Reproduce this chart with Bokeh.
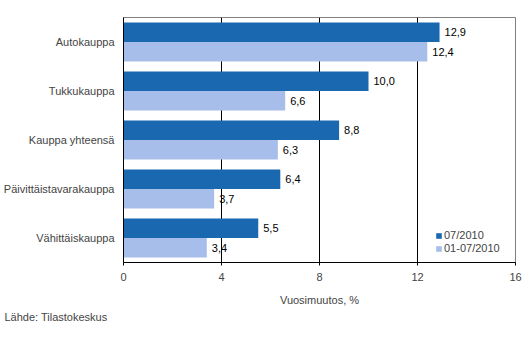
from bokeh.plotting import figure
from bokeh.models import (ColumnDataSource, FactorRange, Range1d, FixedTicker,
                          LabelSet, Title, Legend, LegendItem)
from bokeh.core.properties import value
from bokeh.transform import dodge
from bokeh.embed import file_html
from bokeh.resources import INLINE

categories = ["Autokauppa", "Tukkukauppa", "Kauppa yhteensä",
              "Päivittäistavarakauppa", "Vähittäiskauppa"]
series_names = ["07/2010", "01-07/2010"]
values_month = [12.9, 10.0, 8.8, 6.4, 5.5]
values_ytd = [12.4, 6.6, 6.3, 3.7, 3.4]
x_ticks = [0, 4, 8, 12, 16]

FONT = "Liberation Sans"
DARK = "#1968B0"
LIGHT = "#A7BEEA"

src = ColumnDataSource(dict(
    cat=categories,
    v1=values_month,
    v2=values_ytd,
    l1=[f"{v:.1f}".replace(".", ",") for v in values_month],
    l2=[f"{v:.1f}".replace(".", ",") for v in values_ytd],
))

p = figure(width=529, height=356, output_backend="svg", toolbar_location=None,
           y_range=FactorRange(factors=list(reversed(categories))),
           x_range=Range1d(0, 16),
           min_border_left=123, min_border_right=14, min_border_top=17,
           min_border_bottom=94)

r1 = p.hbar(y=dodge("cat", 0.2, range=p.y_range), right="v1", left=0, height=0.4,
            source=src, fill_color=DARK, line_color=None)
r2 = p.hbar(y=dodge("cat", -0.2, range=p.y_range), right="v2", left=0, height=0.4,
            source=src, fill_color=LIGHT, line_color=None)

for col, lab, off in (("v1", "l1", 0.2), ("v2", "l2", -0.2)):
    p.add_layout(LabelSet(x=col, y=dodge("cat", off, range=p.y_range), text=lab,
                          source=src, x_offset=5, text_baseline="middle",
                          text_font=value(FONT), text_font_size="11px",
                          text_color="#000000"))

# axes
p.xaxis.ticker = FixedTicker(ticks=x_ticks)
p.xaxis.axis_label = "Vuosimuutos, %"
p.xaxis.axis_label_text_font = FONT
p.xaxis.axis_label_text_font_size = "11px"
p.xaxis.axis_label_text_font_style = "normal"
p.xaxis.axis_label_standoff = 10
p.xaxis.major_label_text_font = FONT
p.xaxis.major_label_text_font_size = "11px"
p.xaxis.major_label_standoff = 7
p.xaxis.major_tick_out = 3
p.xaxis.major_tick_in = 0
p.xaxis.minor_tick_line_color = None
p.xaxis.axis_line_color = "#000000"
p.xaxis.major_tick_line_color = "#000000"

p.yaxis.major_label_text_font = FONT
p.yaxis.major_label_text_font_size = "11px"
p.yaxis.major_label_standoff = 9
p.yaxis.major_tick_out = 0
p.yaxis.major_tick_in = 0
p.yaxis.major_tick_line_color = None
p.yaxis.axis_line_color = "#000000"

p.xgrid.grid_line_color = "#000000"
p.xgrid.grid_line_alpha = 1
p.ygrid.grid_line_color = None

p.outline_line_color = "#808080"
p.outline_line_width = 1
p.outline_line_alpha = 1

legend = Legend(items=[LegendItem(label=series_names[0], renderers=[r1]),
                       LegendItem(label=series_names[1], renderers=[r2])],
                location=(312, 8), orientation="vertical",
                glyph_width=7, glyph_height=7, label_standoff=2, spacing=1,
                padding=0, margin=0, border_line_color=None,
                background_fill_alpha=0,
                label_text_font=FONT, label_text_font_size="11px",
                label_height=12)
p.add_layout(legend)

src_title = Title(text="Lähde: Tilastokeskus", align="left", offset=-119,
                  text_font=FONT, text_font_size="11px",
                  text_font_style="normal", standoff=0)
p.add_layout(src_title, "below")

open("out.html", "w").write(file_html(p, INLINE))
